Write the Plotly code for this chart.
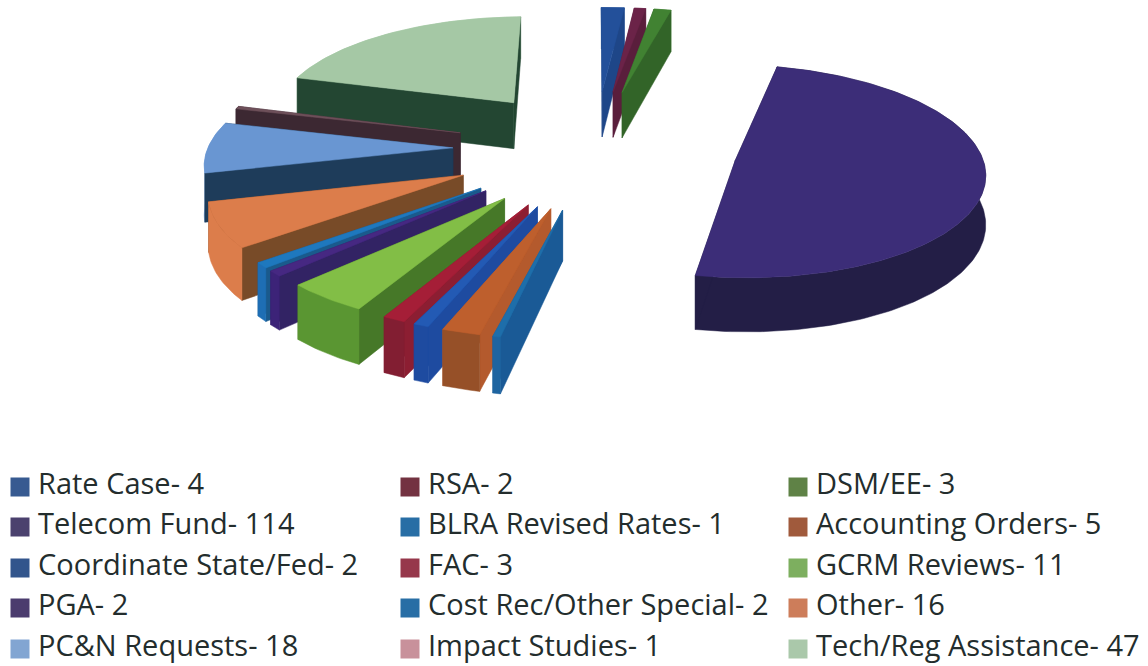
import math
import plotly.graph_objects as go

# Caseload by docket category
categories = ["Rate Case", "RSA", "DSM/EE", "Telecom Fund", "BLRA Revised Rates",
              "Accounting Orders", "Coordinate State/Fed", "FAC", "GCRM Reviews", "PGA",
              "Cost Rec/Other Special", "Other", "PC&N Requests", "Impact Studies",
              "Tech/Reg Assistance"]
counts = [4, 2, 3, 114, 1, 5, 2, 3, 11, 2, 2, 16, 18, 1, 47]

# Colours per slice
top_colors = ["#23509a", "#6b2348", "#418232", "#3c2d78", "#1e6eaa", "#be5f2d", "#235ab4", "#a51e37",
              "#82be46", "#462882", "#1e78be", "#dc7d4b", "#6996d2", "#6e505a", "#a5c8a5"]
rim_colors = ["#23509a", "#6b2348", "#418232", "#231e46", "#1e64a0", "#965028", "#1e4ba0", "#821e32",
              "#5a9632", "#3c2378", "#1e6eb4", "#dc7d4b", "#6996d2", "#3c2832", "#a5c8a5"]
side_colors = ["#1e4688", "#5a1e3c", "#326428", "#231e46", "#1a5a96", "#b45a2d", "#1e4ba0", "#8c1e32",
               "#467828", "#322364", "#1a5a8c", "#784b28", "#1e3c5a", "#3c2832", "#234632"]
swatch_colors = ["#375a91", "#733241", "#5f8246", "#4b416e", "#286ea5", "#a05a3c", "#32558c", "#96374b",
                 "#7daf5f", "#4b3c6e", "#286ea5", "#cd7d5a", "#82a5d2", "#c8919b", "#aac8aa"]

# Projection of the pie plane onto the page (pixels)
CX, CY = 595.0, 148.0
SCALE_X, SCALE_Y = 245.0, 103.0
SHEAR = 4.0
PERSPECTIVE = 0.10
ROTATION = math.radians(-1.0)
PULL = 0.58
DEPTH = 48.0


def project(u, v):
    w = 1 + PERSPECTIVE * v
    return CX + (SCALE_X * u + SHEAR * v) / w, CY - SCALE_Y * v / w, w


def drop(pt):
    x, y, w = pt
    return x, y + DEPTH / w


def polygon(points, color, name):
    xs = [p[0] for p in points] + [points[0][0]]
    ys = [p[1] for p in points] + [points[0][1]]
    return go.Scatter(x=xs, y=ys, mode="lines", fill="toself", fillcolor=color,
                      line=dict(color=color, width=0.5), name=name,
                      hoverinfo="name", showlegend=False)


total = sum(counts)
slices = []
start = 0.0
for i, n in enumerate(counts):
    a0 = start / total * 2 * math.pi + ROTATION
    a1 = (start + n) / total * 2 * math.pi + ROTATION
    start += n
    mid = (a0 + a1) / 2
    ox, oy = PULL * math.sin(mid), PULL * math.cos(mid)
    tip = project(ox, oy)
    steps = max(2, int(n * 1.5))
    rim = [project(ox + math.sin(a0 + (a1 - a0) * k / steps),
                   oy + math.cos(a0 + (a1 - a0) * k / steps)) for k in range(steps + 1)]
    slices.append((oy + 0.5 * math.cos(mid), i, tip, rim))

fig = go.Figure()
# Farthest slices are painted first so nearer ones overlap them
for _, i, tip, rim in sorted(slices, key=lambda s: -s[0]):
    walls = [
        ([tip, rim[0], drop(rim[0]), drop(tip)], side_colors[i]),
        ([tip, rim[-1], drop(rim[-1]), drop(tip)], side_colors[i]),
        (rim + [drop(p) for p in reversed(rim)], rim_colors[i]),
    ]
    # Walls go back to front, the top face last
    walls.sort(key=lambda w: sum(p[1] for p in w[0]) / len(w[0]))
    for points, color in walls:
        fig.add_trace(polygon(points, color, categories[i]))
    fig.add_trace(polygon([tip] + rim, top_colors[i], categories[i]))

# Three-column key, filled row by row
COLUMN_X = [20, 410, 798]
ROW_Y = [487, 527, 568, 608, 649]
key_x = [COLUMN_X[i % 3] for i in range(len(categories))]
key_y = [ROW_Y[i // 3] for i in range(len(categories))]
fig.add_trace(go.Scatter(x=key_x, y=key_y, mode="markers",
                         marker=dict(symbol="square", size=19, color=swatch_colors),
                         hoverinfo="skip", showlegend=False))
fig.add_trace(go.Scatter(x=[x + 18 for x in key_x], y=key_y, mode="text",
                         text=[f"{c}- {n}" for c, n in zip(categories, counts)],
                         textposition="middle right",
                         textfont=dict(family="Open Sans", size=29, color="#232d2d"),
                         hoverinfo="skip", showlegend=False))

fig.update_layout(width=1148, height=666, margin=dict(l=0, r=0, t=0, b=0),
                  paper_bgcolor="white", plot_bgcolor="white", showlegend=False,
                  xaxis=dict(range=[0, 1148], visible=False),
                  yaxis=dict(range=[666, 0], visible=False))
fig.write_html("out.html")
